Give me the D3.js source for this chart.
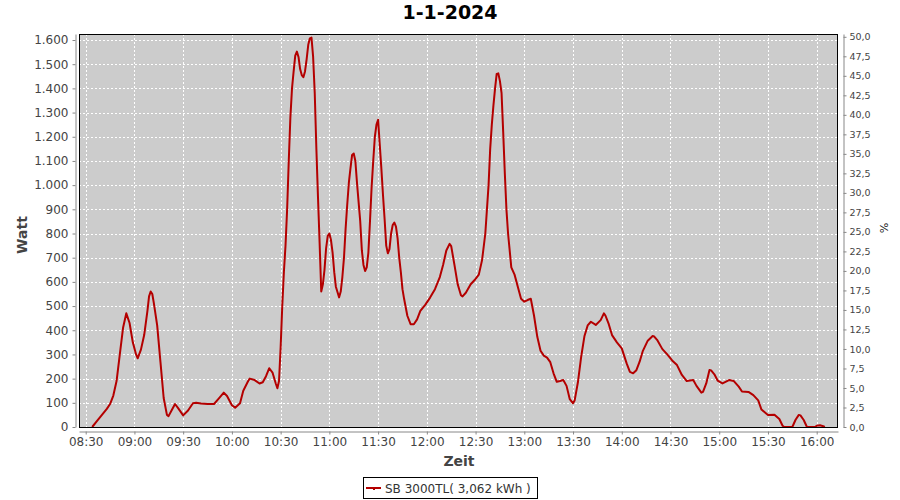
<!DOCTYPE html>
<html>
<head>
<meta charset="utf-8">
<script src="https://cdn.jsdelivr.net/npm/d3@7"></script>
<style>
  html, body { margin: 0; padding: 0; background: #ffffff; }
  svg { display: block; font-family: "DejaVu Sans", sans-serif; }
</style>
</head>
<body>
<svg id="chart" width="900" height="500"></svg>
<script>
// ---------- DATA ----------
const chartTitle = "1-1-2024";
const seriesName = "SB 3000TL( 3,062 kWh )";

const times = [
  "08:34","08:37","08:40","08:43","08:45","08:47","08:49","08:51","08:53","08:55",
  "08:57","08:59","09:01","09:02","09:04","09:06","09:08","09:09","09:10","09:11",
  "09:12","09:14","09:16","09:18","09:20","09:21","09:23","09:25","09:27","09:30",
  "09:33","09:36","09:38","09:41","09:45","09:49","09:52","09:55","09:57","10:00",
  "10:02","10:05","10:07","10:10","10:11","10:14","10:17","10:19","10:21","10:23",
  "10:25","10:27","10:28","10:29","10:30","10:31","10:32","10:33","10:34","10:35",
  "10:36","10:37","10:38","10:39","10:40","10:41","10:42","10:43","10:44","10:45",
  "10:46","10:47","10:48","10:49","10:50","10:51","10:52","10:53","10:54","10:55",
  "10:56","10:57","10:58","10:59","11:00","11:01","11:02","11:03","11:04","11:06",
  "11:07","11:08","11:09","11:10","11:11","11:12","11:13","11:14","11:15","11:16",
  "11:17","11:18","11:19","11:20","11:21","11:22","11:23","11:24","11:25","11:26",
  "11:27","11:28","11:29","11:30","11:31","11:32","11:33","11:34","11:35","11:36",
  "11:37","11:38","11:39","11:40","11:41","11:42","11:43","11:44","11:45","11:46",
  "11:48","11:50","11:52","11:54","11:56","11:59","12:02","12:05","12:08","12:10",
  "12:12","12:14","12:15","12:17","12:19","12:21","12:22","12:24","12:27","12:30",
  "12:32","12:34","12:36","12:37","12:38","12:39","12:40","12:41","12:42","12:43",
  "12:44","12:45","12:46","12:47","12:48","12:49","12:50","12:51","12:52","12:54",
  "12:56","12:58","13:00","13:02","13:04","13:06","13:08","13:10","13:12","13:14",
  "13:16","13:18","13:20","13:22","13:24","13:26","13:28","13:30","13:31","13:33",
  "13:35","13:37","13:39","13:41","13:44","13:47","13:49","13:50","13:52","13:54",
  "13:57","14:00","14:03","14:05","14:07","14:09","14:11","14:13","14:16","14:19",
  "14:20","14:22","14:25","14:28","14:31","14:34","14:37","14:40","14:44","14:46",
  "14:49","14:50","14:52","14:54","14:55","14:57","14:59","15:02","15:06","15:09",
  "15:12","15:14","15:18","15:21","15:24","15:26","15:30","15:34","15:37","15:39",
  "15:40","15:45","15:47","15:49","15:50","15:52","15:54","15:59","16:00","16:02",
  "16:04","16:05"
];

const watts = [
  0,25,50,75,95,130,190,300,410,470,
  430,350,300,284,320,380,480,540,560,550,
  510,420,270,120,50,45,70,95,77,48,
  68,98,100,97,95,95,118,142,128,90,
  80,98,150,190,200,194,180,185,210,243,
  225,180,160,190,330,500,640,750,900,1100,
  1280,1400,1470,1535,1552,1530,1480,1455,1446,1470,
  1520,1580,1607,1610,1530,1380,1150,950,760,560,
  590,650,740,790,800,773,720,640,580,536,
  560,620,700,820,920,1010,1070,1125,1131,1100,
  1010,930,850,730,670,645,660,720,850,990,
  1100,1200,1250,1270,1170,1070,960,860,750,718,
  735,800,835,845,828,780,700,640,570,530,
  460,425,425,445,480,505,535,570,620,670,
  730,757,748,670,590,545,540,555,590,612,
  630,690,800,900,1000,1150,1250,1330,1400,1460,
  1462,1430,1380,1220,1050,900,800,730,660,630,
  580,530,518,525,530,460,373,315,295,287,
  268,222,187,190,194,170,115,98,110,185,
  290,375,420,435,422,442,470,460,425,380,
  350,325,263,228,222,235,270,315,357,376,
  374,358,322,300,275,256,215,190,194,170,
  142,145,180,236,234,218,192,180,194,190,
  167,147,145,132,110,72,50,51,33,5,
  0,0,30,50,48,29,0,0,5,7,
  3,0
];

const xTickLabels = ["08:30","09:00","09:30","10:00","10:30","11:00","11:30","12:00",
                     "12:30","13:00","13:30","14:00","14:30","15:00","15:30","16:00"];
const wattTicks = [0,100,200,300,400,500,600,700,800,900,1000,1100,1200,1300,1400,1500,1600];
const pctTicks = [0,2.5,5,7.5,10,12.5,15,17.5,20,22.5,25,27.5,30,32.5,35,37.5,40,42.5,45,47.5,50];

// ---------- LAYOUT ----------
const plot = { left: 79, right: 838, top: 34, bottom: 427 };
const lineColor = "#b40000";
const tickColor = "#444444";
const axisColor = "#888888";

const parseT = d3.timeParse("%H:%M");
const data = times.map((t, i) => ({ t: parseT(t), v: watts[i] }));

const svg = d3.select("#chart");

const x = d3.scaleTime()
  .range([plot.left, plot.right]);
// keep 08:30 at ~85.7 and 16:00 at ~816.7
x.domain([
  new Date(parseT("08:30").getTime() - (85.7 - plot.left) / 1.6244 * 60000),
  new Date(parseT("16:00").getTime() + (plot.right - 816.7) / 1.6244 * 60000)
]);

const y = d3.scaleLinear()
  .domain([0, 1600 + (40 - plot.top) / (387 / 1600)])
  .range([plot.bottom, plot.top]);

const yR = d3.scaleLinear()
  .domain([0, 50 + (36.8 - plot.top) / (390.2 / 50)])
  .range([plot.bottom, plot.top]);

const locale = d3.formatLocale({ decimal: ",", thousands: ".", grouping: [3], currency: ["", ""] });
const fmtW = locale.format(",d");
const fmtP = locale.format(".1f");
const xTickDates = xTickLabels.map(parseT);

// plot background
svg.append("rect")
  .attr("x", plot.left).attr("y", plot.top)
  .attr("width", plot.right - plot.left).attr("height", plot.bottom - plot.top)
  .attr("fill", "#cccccc");

// gridlines
const grid = svg.append("g").attr("stroke", "#ffffff").attr("stroke-width", 1)
  .attr("stroke-dasharray", "2,2");
grid.selectAll("line.h").data(wattTicks).join("line")
  .attr("x1", plot.left).attr("x2", plot.right)
  .attr("y1", d => Math.round(y(d)) + 0.5).attr("y2", d => Math.round(y(d)) + 0.5);
grid.selectAll("line.v").data(xTickDates).join("line")
  .attr("y1", plot.top).attr("y2", plot.bottom)
  .attr("x1", d => Math.round(x(d)) + 0.5).attr("x2", d => Math.round(x(d)) + 0.5);

// line
const line = d3.line().x(d => x(d.t)).y(d => y(d.v));
svg.append("path").datum(data)
  .attr("d", line)
  .attr("fill", "none")
  .attr("stroke", lineColor)
  .attr("stroke-width", 2)
  .attr("stroke-linejoin", "round");

// plot border
svg.append("rect")
  .attr("x", plot.left + 0.5).attr("y", plot.top + 0.5)
  .attr("width", plot.right - plot.left - 1).attr("height", plot.bottom - plot.top)
  .attr("fill", "none").attr("stroke", "#000000").attr("stroke-width", 1);

function styleAxis(g, size) {
  g.select(".domain").attr("stroke", axisColor);
  g.selectAll(".tick line").attr("stroke", axisColor);
  g.selectAll(".tick text").attr("fill", tickColor).style("font-size", size + "px")
    .style("font-family", "DejaVu Sans");
}

// left axis
svg.append("g")
  .attr("transform", "translate(75.5,0)")
  .call(d3.axisLeft(y).tickValues(wattTicks).tickFormat(fmtW).tickSize(3).tickSizeOuter(0).tickPadding(4))
  .call(g => styleAxis(g, 12));

// bottom axis
svg.append("g")
  .attr("transform", "translate(0,431.5)")
  .call(d3.axisBottom(x).tickValues(xTickDates).tickFormat(d3.timeFormat("%H:%M")).tickSize(3).tickSizeOuter(0).tickPadding(3))
  .call(g => styleAxis(g, 12));

// right axis
svg.append("g")
  .attr("transform", "translate(843.5,0)")
  .call(d3.axisRight(yR).tickValues(pctTicks).tickFormat(fmtP).tickSize(3).tickSizeOuter(0).tickPadding(3))
  .call(g => styleAxis(g, 9.5));

// title
svg.append("text")
  .attr("x", 450).attr("y", 19)
  .attr("text-anchor", "middle")
  .style("font-size", "19px").style("font-weight", "bold")
  .attr("fill", "#000000")
  .text(chartTitle);

// axis labels
svg.append("text")
  .attr("transform", "translate(27,235) rotate(-90)")
  .attr("text-anchor", "middle")
  .style("font-size", "14px").style("font-weight", "bold")
  .attr("fill", tickColor)
  .text("Watt");

svg.append("text")
  .attr("x", 459).attr("y", 466)
  .attr("text-anchor", "middle")
  .style("font-size", "14px").style("font-weight", "bold")
  .attr("fill", tickColor)
  .text("Zeit");

svg.append("text")
  .attr("transform", "translate(880,228) rotate(90)")
  .attr("text-anchor", "middle")
  .style("font-size", "11px")
  .attr("fill", "#222222")
  .text("%");

// legend
const lg = svg.append("g");
lg.append("rect")
  .attr("x", 363.5).attr("y", 477.5).attr("width", 174).attr("height", 21)
  .attr("fill", "#ffffff").attr("stroke", "#000000");
lg.append("line")
  .attr("x1", 366).attr("x2", 381).attr("y1", 488).attr("y2", 488)
  .attr("stroke", lineColor).attr("stroke-width", 2);
lg.append("rect")
  .attr("x", 373).attr("y", 488).attr("width", 2).attr("height", 2).attr("fill", lineColor);
lg.append("text")
  .attr("x", 385).attr("y", 492.5)
  .style("font-size", "12px")
  .attr("fill", "#333333")
  .text(seriesName);
</script>
</body>
</html>
